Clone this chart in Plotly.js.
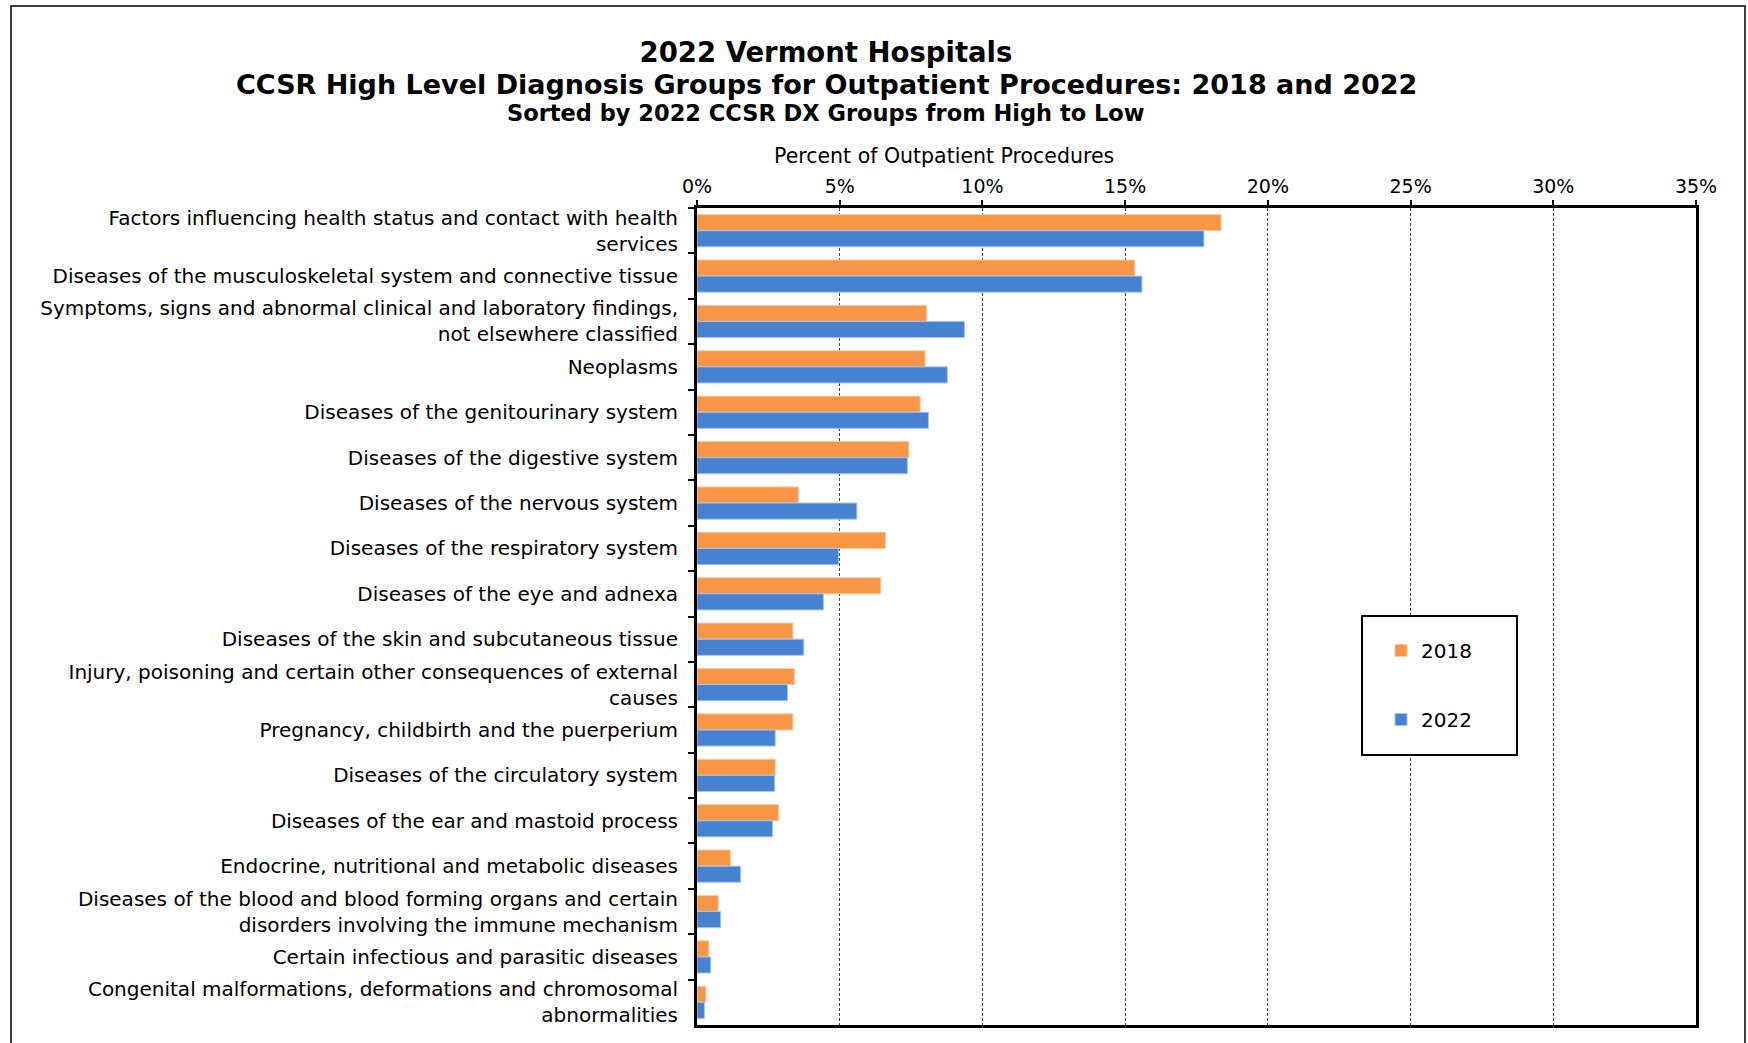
<!DOCTYPE html>
<html>
<head>
<meta charset="utf-8">
<script src="https://cdn.plot.ly/plotly-3.0.1.min.js"></script>
<style>
html,body{margin:0;padding:0;background:#fff;}
#chart{width:1748px;height:1043px;}
</style>
</head>
<body>
<div id="chart"></div>
<script>
const categories = [
  "Factors influencing health status and contact with health<br>services",
  "Diseases of the musculoskeletal system and connective tissue",
  "Symptoms, signs and abnormal clinical and laboratory findings,<br>not elsewhere classified",
  "Neoplasms",
  "Diseases of the genitourinary system",
  "Diseases of the digestive system",
  "Diseases of the nervous system",
  "Diseases of the respiratory system",
  "Diseases of the eye and adnexa",
  "Diseases of the skin and subcutaneous tissue",
  "Injury, poisoning and certain other consequences of external<br>causes",
  "Pregnancy, childbirth and the puerperium",
  "Diseases of the circulatory system",
  "Diseases of the ear and mastoid process",
  "Endocrine, nutritional and metabolic diseases",
  "Diseases of the blood and blood forming organs and certain<br>disorders involving the immune mechanism",
  "Certain infectious and parasitic diseases",
  "Congenital malformations, deformations and chromosomal<br>abnormalities"
];
const values2018 = [18.36, 15.33, 8.04, 7.99, 7.82, 7.42, 3.55, 6.60, 6.44, 3.36, 3.41, 3.36, 2.74, 2.86, 1.17, 0.74, 0.41, 0.31];
const values2022 = [17.76, 15.59, 9.37, 8.77, 8.11, 7.37, 5.60, 4.96, 4.43, 3.74, 3.17, 2.74, 2.72, 2.65, 1.53, 0.83, 0.48, 0.26];
const seriesNames = ["2018", "2022"];
const xTickValues = [0, 5, 10, 15, 20, 25, 30, 35];
const xTickLabels = ["0%", "5%", "10%", "15%", "20%", "25%", "30%", "35%"];

const FONT = "'DejaVu Sans', Verdana, sans-serif";

const traces = [
  {
    type: "bar", orientation: "h", name: seriesNames[0],
    y: categories, x: values2018,
    marker: {color: "#F79646", line: {color: "#FBC9A2", width: 1}},
    legendgroup: "a", hoverinfo: "x+y"
  },
  {
    type: "bar", orientation: "h", name: seriesNames[1],
    y: categories, x: values2022,
    marker: {color: "#4682D0", line: {color: "#A9C4EA", width: 1}},
    legendgroup: "b", hoverinfo: "x+y"
  }
];

const L = 697, R = 1696, T = 208, B = 1025, W = 1748, H = 1043;
const px = v => (v - L) / (R - L);
const py = v => (B - v) / (B - T);

const layout = {
  width: W, height: H,
  paper_bgcolor: "#fff", plot_bgcolor: "#fff",
  margin: {l: L, r: W - R, t: T, b: H - B, pad: 0},
  font: {family: FONT, color: "#000"},
  title: {
    text: "<b>2022 Vermont Hospitals</b>",
    font: {family: FONT, size: 27.5, color: "#000"},
    x: 826 / W, xanchor: "center", xref: "container",
    y: 1 - 52 / H, yanchor: "middle", yref: "container"
  },
  barmode: "group",
  bargap: 0.29,
  bargroupgap: 0,
  showlegend: true,
  legend: {
    x: px(1381), y: py(631), xanchor: "left", yanchor: "top",
    bgcolor: "rgba(0,0,0,0)", borderwidth: 0,
    font: {family: FONT, size: 20, color: "#000"},
    traceorder: "grouped", tracegroupgap: 40,
    itemclick: false, itemdoubleclick: false
  },
  xaxis: {
    side: "top", range: [0, 35], tickmode: "array", tickvals: xTickValues, ticktext: xTickLabels,
    showgrid: true, gridcolor: "#444", gridwidth: 1, griddash: "3px,2px",
    zeroline: false,
    showline: true, linecolor: "#000", linewidth: 2.5, mirror: true,
    ticks: "outside", ticklen: 5, tickcolor: "#000", tickwidth: 1.5,
    tickfont: {family: FONT, size: 19, color: "#000"},
    fixedrange: true
  },
  yaxis: {
    type: "category", autorange: "reversed",
    showline: true, linecolor: "#000", linewidth: 3, mirror: true,
    ticks: "outside", tickson: "boundaries", ticklen: 6, tickcolor: "#000", tickwidth: 1.5,
    ticklabelstandoff: 12,
    tickfont: {family: FONT, size: 20, color: "#000"},
    showgrid: false, zeroline: false, fixedrange: true
  },
  annotations: [
    {
      text: "<b>CCSR High Level Diagnosis Groups for Outpatient Procedures: 2018 and 2022</b>",
      xref: "paper", yref: "paper", x: px(826), y: py(84),
      xanchor: "center", yanchor: "middle", showarrow: false,
      font: {family: FONT, size: 27, color: "#000"}
    },
    {
      text: "<b>Sorted by 2022 CCSR DX Groups from High to Low</b>",
      xref: "paper", yref: "paper", x: px(826), y: py(113),
      xanchor: "center", yanchor: "middle", showarrow: false,
      font: {family: FONT, size: 22.5, color: "#000"}
    },
    {
      text: "Percent of Outpatient Procedures",
      xref: "paper", yref: "paper", x: px(944), y: py(156),
      xanchor: "center", yanchor: "middle", showarrow: false,
      font: {family: FONT, size: 20.5, color: "#000"}
    }
  ],
  shapes: [
    {
      type: "rect", xref: "paper", yref: "paper",
      x0: px(11), x1: px(1745), y0: py(6), y1: py(1100),
      line: {color: "#000", width: 1.5}, fillcolor: "rgba(0,0,0,0)", layer: "below"
    },
    {
      type: "rect", xref: "paper", yref: "paper",
      x0: px(1362), x1: px(1517), y0: py(616), y1: py(755),
      line: {color: "#000", width: 2}, fillcolor: "#fff", layer: "above"
    }
  ]
};

Plotly.newPlot("chart", traces, layout, {displayModeBar: false});
</script>
</body>
</html>
